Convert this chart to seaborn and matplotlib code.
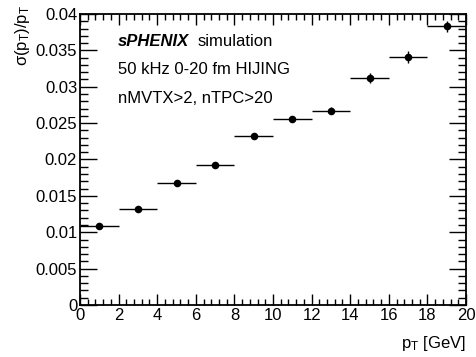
"""Momentum resolution vs pT, sPHENIX simulation style."""

import matplotlib
matplotlib.use("Agg")
import matplotlib.pyplot as plt
import pandas as pd
import seaborn as sns
from matplotlib.ticker import MultipleLocator

pt_centers = [1, 3, 5, 7, 9, 11, 13, 15, 17, 19]
pt_halfwidth = [1, 1, 1, 1, 1, 1, 1, 1, 1, 1]
resolution = [0.0108, 0.0132, 0.0167, 0.0192, 0.0232, 0.0256, 0.0267, 0.0312, 0.0341, 0.0383]
resolution_err = [0.0002, 0.0002, 0.0002, 0.0003, 0.0003, 0.0004, 0.0005, 0.0007, 0.0008, 0.0008]
ytick_values = [0, 0.005, 0.01, 0.015, 0.02, 0.025, 0.03, 0.035, 0.04]
ytick_labels = ["0", "0.005", "0.01", "0.015", "0.02", "0.025", "0.03", "0.035", "0.04"]

data = pd.DataFrame({"pt": pt_centers, "res": resolution})

sns.set_theme(style="ticks")
plt.rcParams["font.family"] = ["Liberation Sans", "DejaVu Sans"]
plt.rcParams["mathtext.default"] = "regular"
plt.rcParams["text.color"] = "black"
plt.rcParams["axes.labelcolor"] = "black"

FS = 12

fig = plt.figure(figsize=(4.77, 3.57), dpi=100)
ax = fig.add_axes([0.1677, 0.1457, 0.8093, 0.8151])

ax.errorbar(pt_centers, resolution, xerr=pt_halfwidth, yerr=resolution_err,
            fmt="none", ecolor="black", elinewidth=1.0, capsize=0, zorder=2)
sns.scatterplot(data=data, x="pt", y="res", ax=ax, color="black", s=30,
                edgecolor="black", linewidth=0, zorder=3)

ax.set_xlim(0, 20)
ax.set_ylim(0, 0.04)
ax.xaxis.set_major_locator(MultipleLocator(2))
ax.xaxis.set_minor_locator(MultipleLocator(0.4))
ax.yaxis.set_minor_locator(MultipleLocator(0.001))
ax.set_yticks(ytick_values)
ax.set_yticklabels(ytick_labels)

ax.tick_params(which="both", direction="in", top=True, right=True,
               labelsize=FS, colors="black", labelcolor="black", pad=2)
ax.tick_params(axis="y", which="major", length=12, width=1)
ax.tick_params(axis="y", which="minor", length=6, width=1)
ax.tick_params(axis="x", which="major", length=8, width=1)
ax.tick_params(axis="x", which="minor", length=4, width=1)
for spine in ax.spines.values():
    spine.set_linewidth(1.3)
    spine.set_color("black")

ax.set_xlabel(r"$p_{T}$ [GeV]", fontsize=FS, loc="right", color="black")
ax.set_ylabel(r"$\sigma(p_{T})/p_{T}$", fontsize=FS, loc="top", color="black")
ax.xaxis.set_label_coords(1.0, -0.1)
ax.yaxis.set_label_coords(-0.125, 1.03)

ax.text(0.098, 0.904, "sPHENIX", transform=ax.transAxes, fontsize=FS,
        fontweight="bold", fontstyle="italic", va="center", color="black")
ax.text(0.305, 0.904, "simulation", transform=ax.transAxes, fontsize=FS,
        va="center", color="black")
ax.text(0.098, 0.808, "50 kHz 0-20 fm HIJING", transform=ax.transAxes,
        fontsize=FS, va="center", color="black")
ax.text(0.098, 0.711, "nMVTX>2, nTPC>20", transform=ax.transAxes,
        fontsize=FS, va="center", color="black")

fig.savefig("out.png", dpi=100)
